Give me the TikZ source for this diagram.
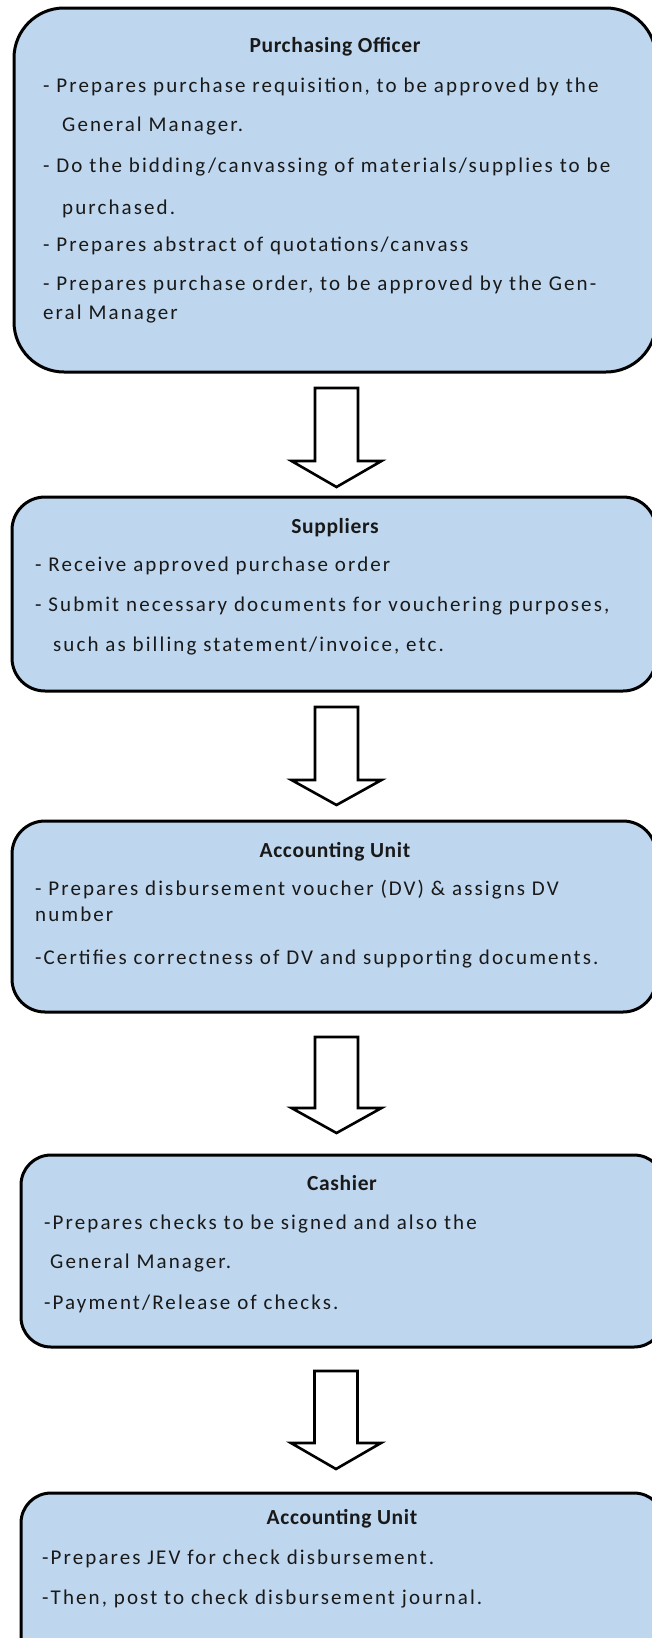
\documentclass[tikz,border=0pt]{standalone}
\usepackage{fontspec}
\setmainfont{Carlito}
\newfontfamily\bodyfont[LetterSpace=10]{Carlito}
\newfontfamily\headfont[LetterSpace=3]{Carlito}
\usetikzlibrary{calc}
\definecolor{boxblue}{RGB}{190,214,238}
\definecolor{inkc}{RGB}{25,25,25}
\newcommand\blockarrow[3]{%
  \draw[blockarr] ($(#1)+(-21.5,0)$) -- ($(#1)+(21.5,0)$) -- ($(#1)+(21.5,#2)$)
    -- ($(#1)+(45,#2)$) -- ($(#1)+(0,#3)$) -- ($(#1)+(-45,#2)$)
    -- ($(#1)+(-21.5,#2)$) -- cycle;}
\begin{document}
\begin{tikzpicture}[x=1pt,y=-1pt,
  stagebox/.style={draw=black,fill=boxblue,line width=3pt,anchor=north west,
    inner sep=0pt,outer sep=0pt},
  blockarr/.style={draw=black,fill=white,line width=2.6pt,line join=miter},
  txt/.style={anchor=mid west,inner sep=0pt,text=inkc,
    font=\bodyfont\fontsize{21}{25}\selectfont},
  ttl/.style={anchor=mid,inner sep=0pt,text=inkc,
    font=\headfont\bfseries\fontsize{21.5}{25}\selectfont}]
\useasboundingbox (0,0) rectangle (652,1638);
\clip (0,0) rectangle (652,1638);
\fill[white] (0,0) rectangle (652,1638);

% boxes
\node[stagebox,rounded corners=50pt,minimum width=642pt,minimum height=364pt] (b1) at (14,8) {};
\node[stagebox,rounded corners=33pt,minimum width=644pt,minimum height=194pt] (b2) at (12,497) {};
\node[stagebox,rounded corners=33pt,minimum width=644pt,minimum height=191pt] (b3) at (12,821) {};
\node[stagebox,rounded corners=30pt,minimum width=643pt,minimum height=192pt] (b4) at (21,1155) {};
\node[stagebox,rounded corners=30pt,minimum width=643pt,minimum height=210pt] (b5) at (21,1493) {};

% box 1 text
\node[ttl] (t1) at (335,50) {Purchasing Officer};
\node[txt] (l11) at (43,90) {- Prepares purchase requisition, to be approved by the};
\node[txt] (l12) at (62,129) {General Manager.};
\node[txt] (l13) at (43,170) {- Do the bidding/canvassing of materials/supplies to be};
\node[txt] (l14) at (62,212) {purchased.};
\node[txt] (l15) at (43,249) {- Prepares abstract of quotations/canvass};
\node[txt] (l16) at (43,288) {- Prepares purchase order, to be approved by the Gen-};
\node[txt] (l17) at (43,317) {eral Manager};

% box 2 text
\node[ttl] (t2) at (335,531) {Suppliers};
\node[txt] (l21) at (35,569) {- Receive approved purchase order};
\node[txt] (l22) at (35,609) {- Submit necessary documents for vouchering purposes,};
\node[txt] (l23) at (53,649) {such as billing statement/invoice, etc.};

% box 3 text
\node[ttl] (t3) at (335,855) {Accounting Unit};
\node[txt] (l31) at (35,893) {- Prepares disbursement voucher (DV) \& assigns DV};
\node[txt] (l32) at (35,919) {number};
\node[txt] (l33) at (35,962) {-Certifies correctness of DV and supporting documents.};

% box 4 text
\node[ttl] (t4) at (342,1188) {Cashier};
\node[txt] (l41) at (44,1227) {-Prepares checks to be signed and also the};
\node[txt] (l42) at (50,1266) {General Manager.};
\node[txt] (l43) at (44,1307) {-Payment/Release of checks.};

% box 5 text
\node[ttl] (t5) at (342,1522) {Accounting Unit};
\node[txt] (l51) at (42,1562) {-Prepares JEV for check disbursement.};
\node[txt] (l52) at (42,1602) {-Then, post to check disbursement journal.};

% arrows
\coordinate (a1) at (336.5,388);
\coordinate (a2) at (336.5,707);
\coordinate (a3) at (336.5,1037);
\coordinate (a4) at (336,1371);
\blockarrow{a1}{73}{99}
\blockarrow{a2}{73}{98}
\blockarrow{a3}{71}{96}
\blockarrow{a4}{72}{98}
\end{tikzpicture}
\end{document}
